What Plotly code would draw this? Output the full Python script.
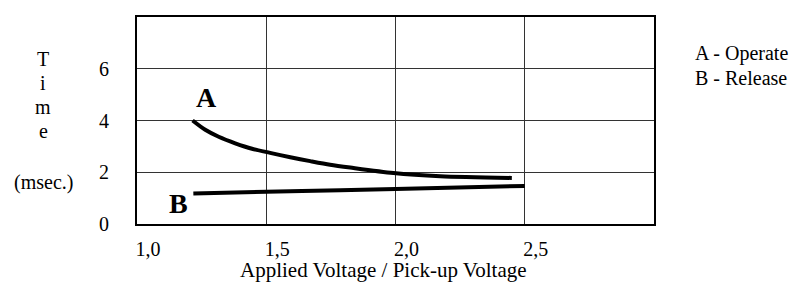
import plotly.graph_objects as go

# Data
operate_x = [1.215, 1.264, 1.316, 1.38, 1.445, 1.515, 1.593, 1.67, 1.747, 1.825, 1.992, 2.173, 2.45]
operate_y = [4.0, 3.64, 3.37, 3.12, 2.91, 2.75, 2.58, 2.43, 2.29, 2.18, 1.97, 1.85, 1.78]
release_x = [1.218, 1.5, 1.786, 2.0, 2.5]
release_y = [1.18, 1.25, 1.30, 1.35, 1.47]

x_ticks = [1.0, 1.5, 2.0, 2.5]
x_tick_labels = ["1,0", "1,5", "2,0", "2,5"]
y_ticks = [0, 2, 4, 6]
y_tick_labels = ["0", "2", "4", "6"]

FONT = "Liberation Serif"

fig = go.Figure()
fig.add_trace(go.Scatter(x=operate_x, y=operate_y, mode="lines",
                         line=dict(color="black", width=4, shape="spline", smoothing=0.8),
                         showlegend=False, hoverinfo="skip"))
fig.add_trace(go.Scatter(x=release_x, y=release_y, mode="lines",
                         line=dict(color="black", width=4, shape="spline", smoothing=0.8),
                         showlegend=False, hoverinfo="skip"))

fig.update_layout(
    width=794, height=274, autosize=False,
    margin=dict(l=129, r=148, t=7, b=58),
    paper_bgcolor="white", plot_bgcolor="white",
    font=dict(family=FONT, size=20, color="black"),
)
fig.update_xaxes(range=[1, 3], tickvals=x_ticks, ticktext=x_tick_labels,
                 showgrid=True, gridcolor="#333", gridwidth=1,
                 showline=True, linecolor="black", linewidth=2, mirror=True,
                 ticks="", zeroline=False, ticklabelshift=11, ticklabelstandoff=6,
                 tickfont=dict(family=FONT, size=20, color="black"))
fig.update_yaxes(range=[0, 8], tickvals=y_ticks, ticktext=y_tick_labels,
                 showgrid=True, gridcolor="#333", gridwidth=1,
                 showline=True, linecolor="black", linewidth=2, mirror=True,
                 ticks="", zeroline=False, ticklabelstandoff=22,
                 tickfont=dict(family=FONT, size=20, color="black"))

ann = []
for txt, y in [("T", 0.799), ("i", 0.680), ("m", 0.565), ("e", 0.451), ("(msec.)", 0.202)]:
    ann.append(dict(text=txt, xref="paper", yref="paper", x=-0.181, y=y,
                    showarrow=False, xanchor="center", yanchor="middle",
                    font=dict(family=FONT, size=20, color="black")))
ann.append(dict(text="A - Operate", xref="paper", yref="paper", x=1.0754, y=0.823,
                showarrow=False, xanchor="left", yanchor="middle",
                font=dict(family=FONT, size=20, color="black")))
ann.append(dict(text="B - Release", xref="paper", yref="paper", x=1.0754, y=0.704,
                showarrow=False, xanchor="left", yanchor="middle",
                font=dict(family=FONT, size=20, color="black")))
ann.append(dict(text="<b>A</b>", xref="x", yref="y", x=1.268, y=4.87,
                showarrow=False, xanchor="center", yanchor="middle",
                font=dict(family=FONT, size=28, color="black")))
ann.append(dict(text="<b>B</b>", xref="x", yref="y", x=1.16, y=0.81,
                showarrow=False, xanchor="center", yanchor="middle",
                font=dict(family=FONT, size=28, color="black")))
ann.append(dict(text="Applied Voltage / Pick-up Voltage", xref="paper", yref="paper",
                x=0.477, y=-0.223, showarrow=False, xanchor="center", yanchor="middle",
                font=dict(family=FONT, size=21, color="black")))
fig.update_layout(annotations=ann)

fig.write_html("out.html")
